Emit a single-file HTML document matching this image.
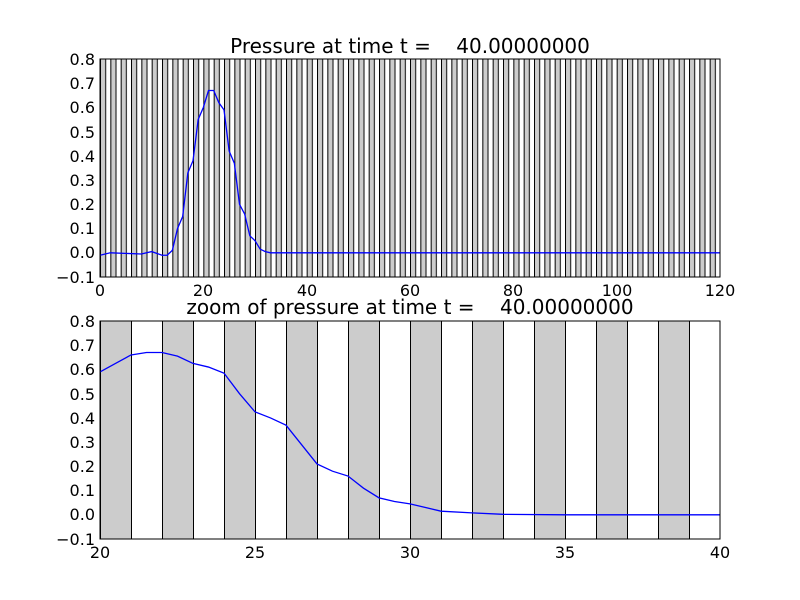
<!DOCTYPE html>
<html><head><meta charset="utf-8"><style>
html,body{margin:0;padding:0;background:#fff;}
svg{display:block;font-family:"DejaVu Sans","Liberation Sans",sans-serif;}
text{white-space:pre;}
</style></head><body>
<svg width="800" height="600" xmlns="http://www.w3.org/2000/svg">
<defs>
<pattern id="p1" x="100" y="0" width="10.3333" height="600" patternUnits="userSpaceOnUse">
<rect x="0" y="0" width="5.1667" height="600" fill="#cccccc"/>
<line x1="0.5" y1="0" x2="0.5" y2="600" stroke="#000" stroke-width="1"/>
<line x1="5.6667" y1="0" x2="5.6667" y2="600" stroke="#000" stroke-width="1"/>
</pattern>
<pattern id="p2" x="100" y="0" width="62" height="600" patternUnits="userSpaceOnUse">
<rect x="0" y="0" width="31" height="600" fill="#cccccc"/>
<line x1="0.5" y1="0" x2="0.5" y2="600" stroke="#000" stroke-width="1"/>
<line x1="31.5" y1="0" x2="31.5" y2="600" stroke="#000" stroke-width="1"/>
</pattern>
</defs>
<rect width="800" height="600" fill="#fff"/>
<rect x="100" y="59" width="620" height="218" fill="url(#p1)"/>
<g transform="translate(100,252.8) scale(5.1667,-242.2)">
<polyline fill="none" stroke="#0000ff" stroke-width="1.3" vector-effect="non-scaling-stroke" points="0,-0.01 2,0 8,-0.005 10,0.005 12,-0.01 13,-0.01 14,0.01 15,0.1 16,0.15 17,0.33 18,0.38 19,0.55 20,0.6 21,0.67 22,0.67 23,0.62 24,0.59 25,0.42 26,0.37 27,0.2 28,0.16 29,0.07 30,0.05 31,0.015 32,0.005 33,0 120,0"/>
</g>
<rect x="100" y="59" width="620" height="218" fill="none" stroke="#000" stroke-width="1"/>
<text x="410" y="53" font-size="20" text-anchor="middle" xml:space="preserve">Pressure at time t =    40.00000000</text>
<g font-size="16" text-anchor="end">
<text x="95" y="65">0.8</text><text x="95" y="89">0.7</text><text x="95" y="113">0.6</text><text x="95" y="138">0.5</text><text x="95" y="162">0.4</text><text x="95" y="186">0.3</text><text x="95" y="210">0.2</text><text x="95" y="234">0.1</text><text x="95" y="258">0.0</text><text x="95" y="283">−0.1</text>
</g>
<g font-size="16" text-anchor="middle">
<text x="100" y="296">0</text><text x="203" y="296">20</text><text x="307" y="296">40</text><text x="410" y="296">60</text><text x="513" y="296">80</text><text x="617" y="296">100</text><text x="720" y="296">120</text>
</g>
<rect x="100" y="321" width="620" height="218" fill="url(#p2)"/>
<g transform="translate(100,514.8) scale(31,-242.2) translate(-20,0)">
<polyline fill="none" stroke="#0000ff" stroke-width="1.3" vector-effect="non-scaling-stroke" points="20,0.59 20.5,0.625 21,0.66 21.5,0.67 22,0.67 22.5,0.655 23,0.625 23.5,0.61 24,0.585 24.5,0.5 25,0.425 25.5,0.4 26,0.37 26.5,0.29 27,0.21 27.5,0.18 28,0.16 28.5,0.11 29,0.07 29.5,0.055 30,0.045 30.5,0.03 31,0.015 32,0.008 33,0.002 35,0 40,0"/>
</g>
<rect x="100" y="321" width="620" height="218" fill="none" stroke="#000" stroke-width="1"/>
<text x="410" y="314" font-size="20" text-anchor="middle" xml:space="preserve">zoom of pressure at time t =    40.00000000</text>
<g font-size="16" text-anchor="end">
<text x="95" y="327">0.8</text><text x="95" y="351">0.7</text><text x="95" y="375">0.6</text><text x="95" y="400">0.5</text><text x="95" y="424">0.4</text><text x="95" y="448">0.3</text><text x="95" y="472">0.2</text><text x="95" y="496">0.1</text><text x="95" y="520">0.0</text><text x="95" y="545">−0.1</text>
</g>
<g font-size="16" text-anchor="middle">
<text x="100" y="558">20</text><text x="255" y="558">25</text><text x="410" y="558">30</text><text x="565" y="558">35</text><text x="720" y="558">40</text>
</g>
</svg>
</body></html>
